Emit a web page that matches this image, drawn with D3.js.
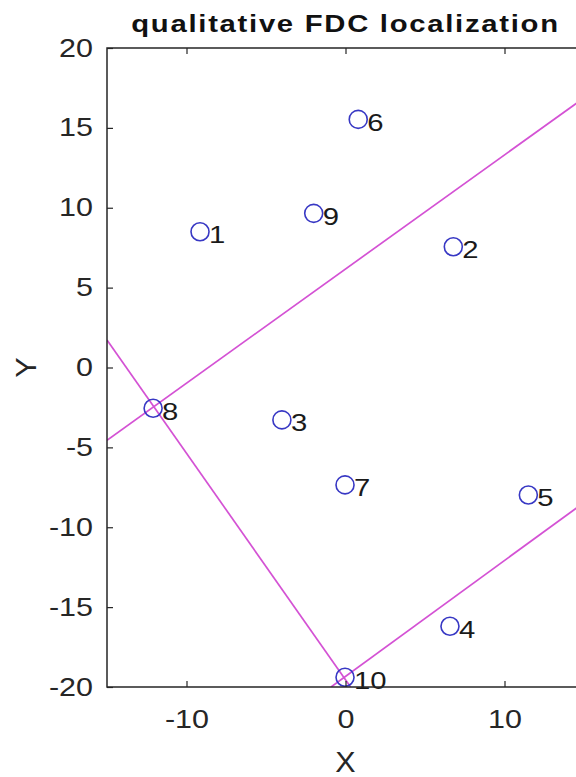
<!DOCTYPE html>
<html>
<head>
<meta charset="utf-8">
<script src="https://cdn.jsdelivr.net/npm/d3@7"></script>
<style>
  html, body { margin: 0; padding: 0; background: #fff; }
  svg { display: block; }
  text { font-family: "Liberation Sans", Arial, Helvetica, sans-serif; }
</style>
</head>
<body>
<svg id="chart" width="576" height="777"></svg>
<script>
// Sensor / node positions
const ids = [1, 2, 3, 4, 5, 6, 7, 8, 9, 10];
const xs  = [-9.15, 6.78, -4.0, 6.57, 11.5, 0.8, -0.03, -12.1, -2.0, -0.03];
const ys  = [8.5, 7.56, -3.28, -16.2, -7.98, 15.53, -7.35, -2.55, 9.65, -19.39];

// Boundary lines (endpoints in data units)
const lineA = [[-15, -4.55], [15, 16.88]];
const lineB = [[-15, 1.72], [0.32, -20]];
const lineC = [[-0.91, -20], [15, -8.45]];

const xTicks = [-10, 0, 10];
const yTicks = [-20, -15, -10, -5, 0, 5, 10, 15, 20];
const xDomain = [-15, 15];
const yDomain = [-20, 20];

const title = "qualitative FDC localization";

const svg = d3.select("#chart");
const L = 107, R = 584, T = 48, B = 687;

const x = d3.scaleLinear().domain(xDomain).range([L, R]);
const y = d3.scaleLinear().domain(yDomain).range([B, T]);

const tickColor = "#262626";
const sx = 1.22; // horizontal text stretch

svg.append("defs").append("clipPath").attr("id", "plotclip")
  .append("rect").attr("x", L).attr("y", T).attr("width", R - L).attr("height", B - T);

// Lines
const plot = svg.append("g").attr("clip-path", "url(#plotclip)");
const lineGen = d3.line().x(d => x(d[0])).y(d => y(d[1]));
[lineA, lineB, lineC].forEach(seg => {
  plot.append("path").attr("d", lineGen(seg))
    .attr("fill", "none").attr("stroke", "#d452d4").attr("stroke-width", 1.7);
});

// Markers
const pts = ids.map((id, i) => ({ id, x: xs[i], y: ys[i] }));
plot.selectAll("circle.m").data(pts).enter().append("circle")
  .attr("class", "m")
  .attr("cx", d => x(d.x)).attr("cy", d => y(d.y)).attr("r", 9)
  .attr("fill", "none").attr("stroke", "#3838c4").attr("stroke-width", 1.6);

// Labels
svg.selectAll("text.lab").data(pts).enter().append("text")
  .attr("class", "lab")
  .attr("transform", d => `translate(${x(d.x) + 9},${y(d.y) + 3}) scale(${sx},1)`)
  .attr("dy", "0.35em")
  .attr("font-size", 24).attr("fill", "#1a1a1a")
  .text(d => d.id);

// Axes
const fmt = d => String(d);
function styleAxis(g) {
  g.select(".domain").remove();
  g.selectAll(".tick line").attr("stroke", tickColor).attr("stroke-width", 1.2);
  g.selectAll(".tick text").attr("fill", tickColor).attr("font-size", 25)
    .attr("font-family", "Liberation Sans, Arial, sans-serif");
}

const gx = svg.append("g").attr("transform", `translate(0,${B})`)
  .call(d3.axisBottom(x).tickValues(xTicks).tickSizeInner(-6).tickSizeOuter(0).tickPadding(23).tickFormat(fmt));
styleAxis(gx);
gx.selectAll(".tick text").attr("transform", `scale(${sx},1)`);

const gt = svg.append("g").attr("transform", `translate(0,${T})`)
  .call(d3.axisTop(x).tickValues(xTicks).tickSizeInner(-6).tickSizeOuter(0).tickFormat(""));
styleAxis(gt);

const gy = svg.append("g").attr("transform", `translate(${L},0)`)
  .call(d3.axisLeft(y).tickValues(yTicks).tickSizeInner(-6).tickSizeOuter(0).tickPadding(14).tickFormat(fmt));
styleAxis(gy);
gy.selectAll(".tick text").attr("transform", `scale(${sx},1)`).attr("x", -14 / sx);

// Axes frame (left, bottom, top)
svg.append("path")
  .attr("d", `M${R},${T}H${L}V${B}H${R}`)
  .attr("fill", "none").attr("stroke", "#262626").attr("stroke-width", 1.5);

// Axis titles
svg.append("text").attr("transform", `translate(${(L + R) / 2},${762}) scale(1.05,1)`)
  .attr("text-anchor", "middle").attr("dy", "0.35em")
  .attr("font-size", 29).attr("fill", tickColor).text("X");
svg.append("text").attr("transform", `translate(26,${(T + B) / 2}) rotate(-90) scale(1.05,1)`)
  .attr("text-anchor", "middle").attr("dy", "0.35em")
  .attr("font-size", 29).attr("fill", tickColor).text("Y");

// Title
svg.append("text").attr("transform", `translate(${(L + R) / 2},32) scale(${sx},1)`)
  .attr("text-anchor", "middle")
  .attr("letter-spacing", 1.4)
  .attr("font-size", 24).attr("font-weight", "bold").attr("fill", "#111").text(title);
</script>
</body>
</html>
